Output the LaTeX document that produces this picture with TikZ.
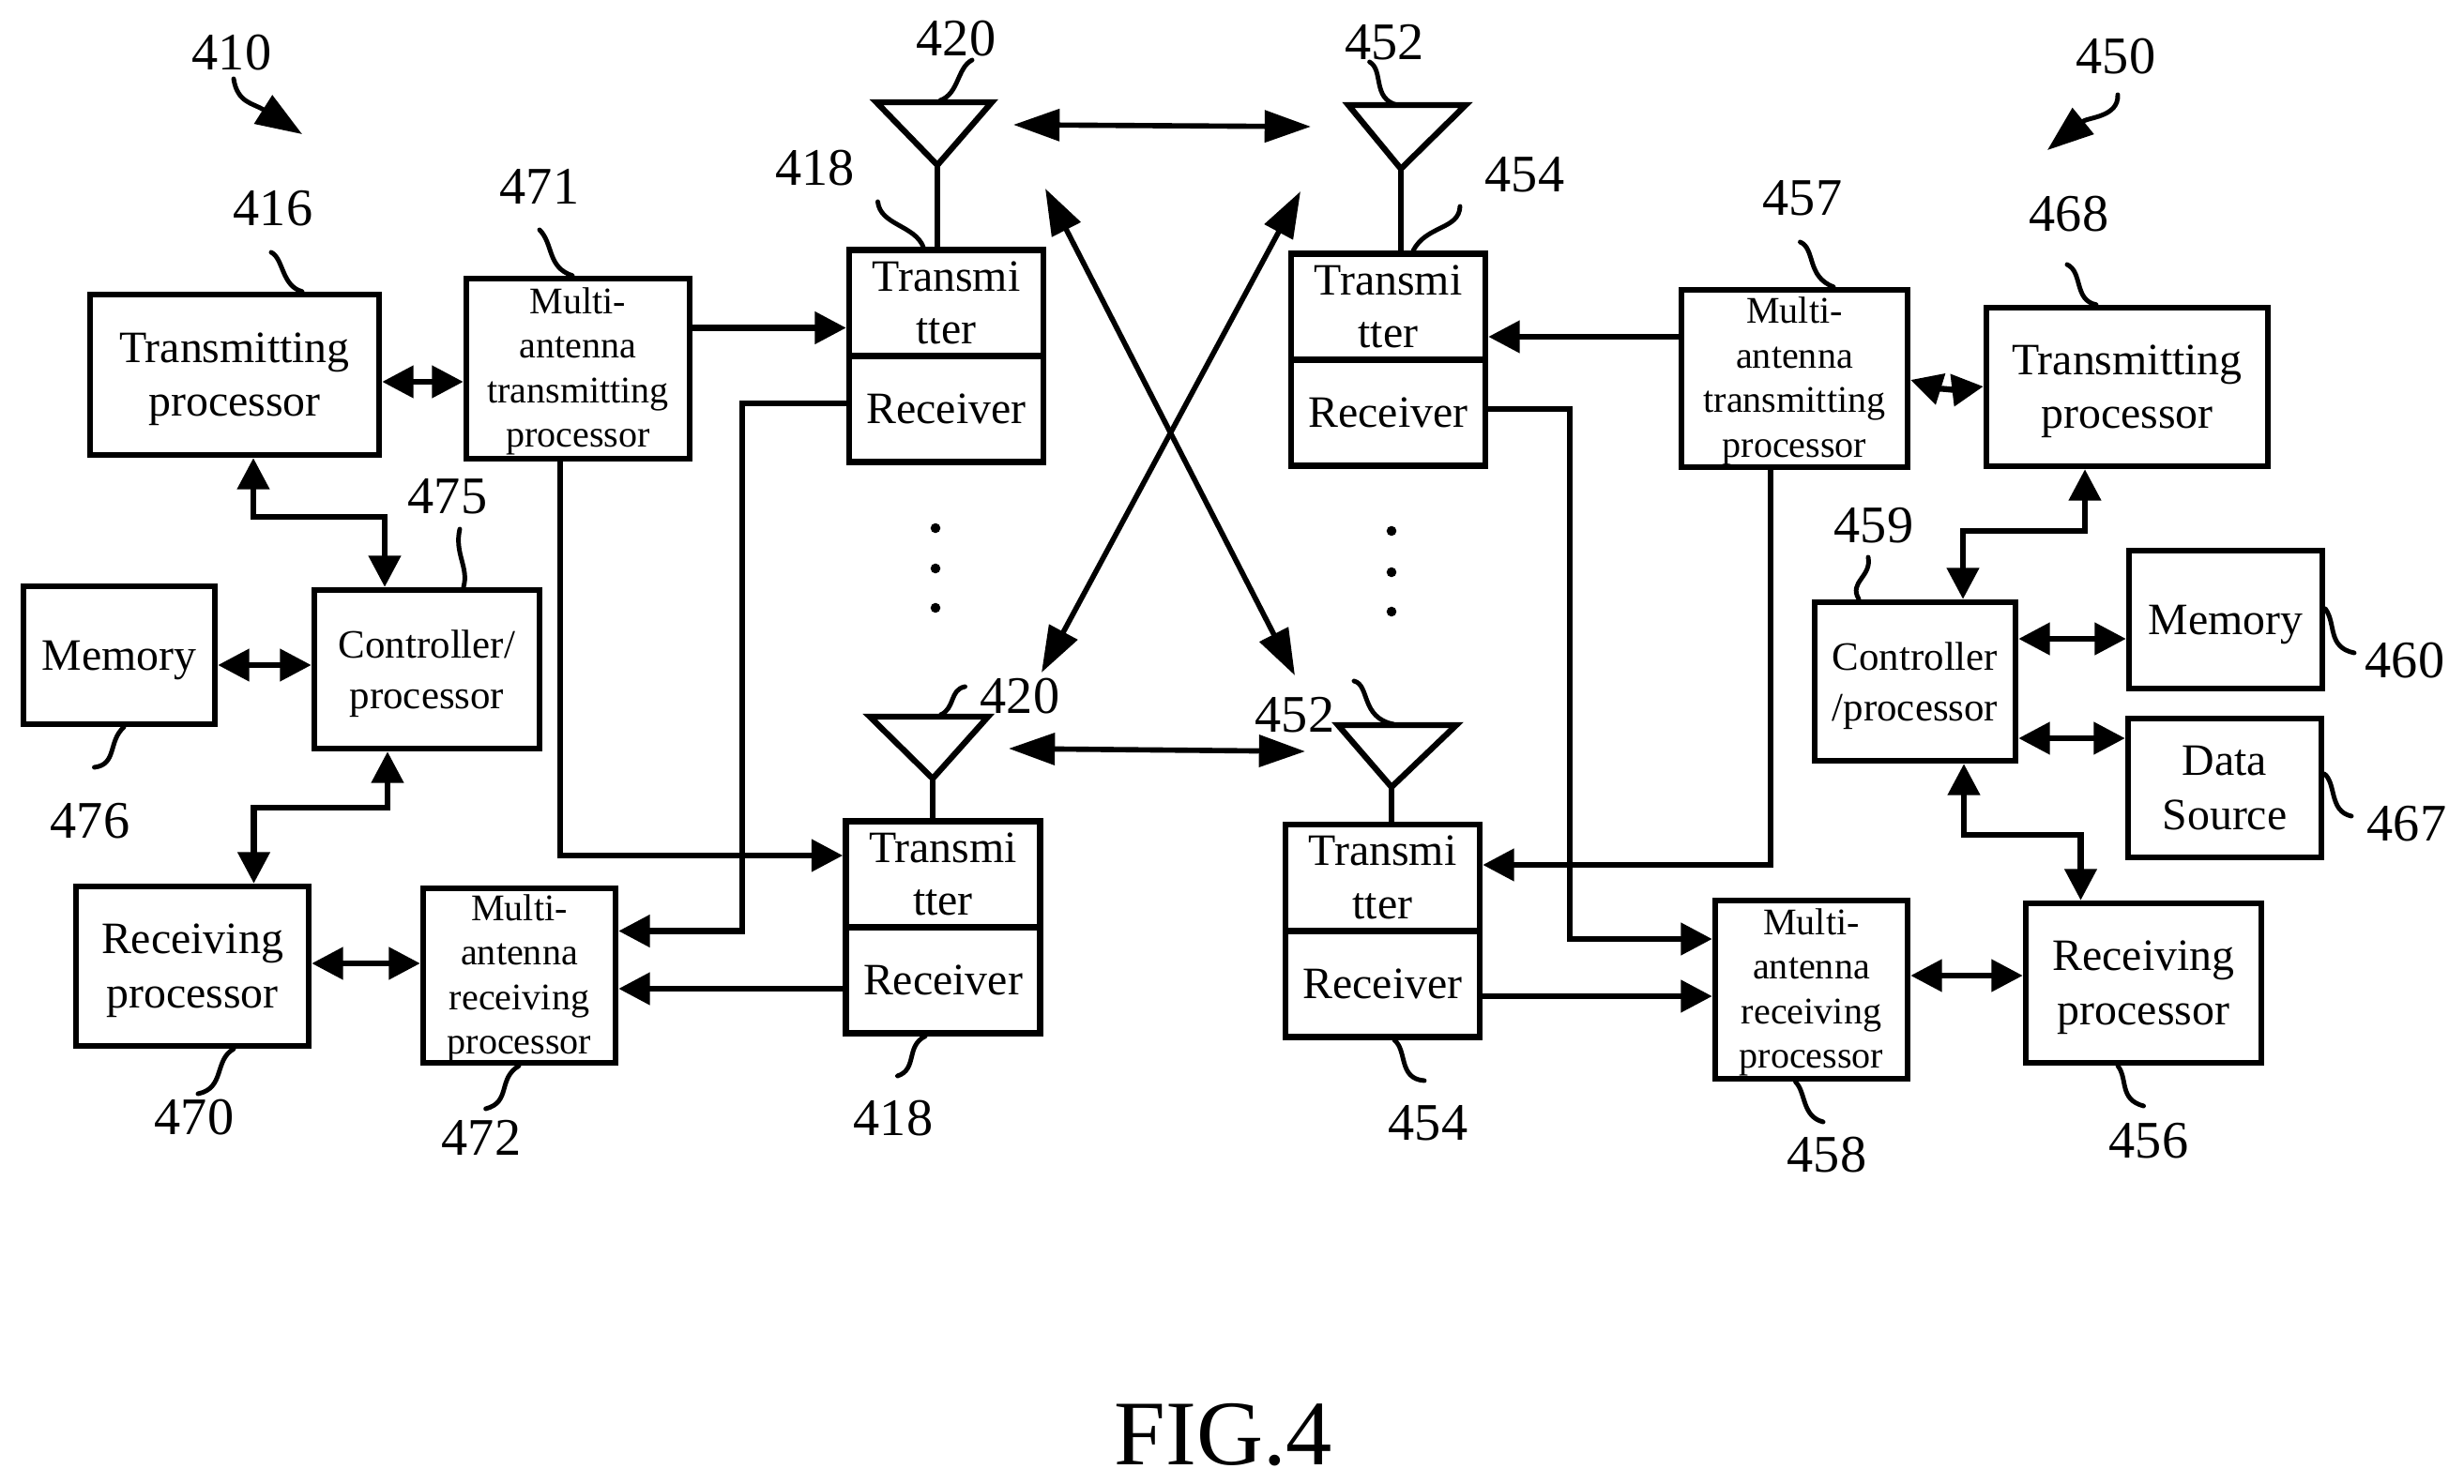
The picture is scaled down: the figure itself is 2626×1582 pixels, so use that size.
\documentclass[tikz,border=0pt]{standalone}
\usepackage{fontspec}
\setmainfont{Liberation Serif}
\usetikzlibrary{arrows.meta}

\begin{document}
\begin{tikzpicture}[x=0.01cm, y=-0.01cm,
    plain/.style={draw, line width=1.8pt, inner sep=0pt, align=center, font=\fontsize{13.6}{16.4}\selectfont},
    boxpad/.style={execute at begin node={\rule{0pt}{#1}}},
    box/.style={plain, boxpad=28.2pt},
    membox/.style={plain, boxpad=12.2pt},
    smallbox/.style={plain, font=\fontsize{11.4}{13.5}\selectfont, boxpad=50.1pt},
    ctrlbox/.style={plain, font=\fontsize{12.2}{15.3}\selectfont, boxpad=26.4pt},
    cell/.style={plain, font=\fontsize{13.6}{16}\selectfont, minimum width=2.07cm, minimum height=1.13cm},
    num/.style={inner sep=0pt, font=\fontsize{16}{18}\selectfont},
    link/.style={line width=1.8pt, -{Triangle[length=9.5pt,width=9.5pt]}},
    bilink/.style={line width=1.8pt, {Triangle[length=9.5pt,width=9.5pt]}-{Triangle[length=9.5pt,width=9.5pt]}},
    air/.style={line width=1.6pt, {Triangle[length=14pt,width=9.5pt]}-{Triangle[length=14pt,width=9.5pt]}},
    leader/.style={line width=1.4pt, line cap=round},
    dotmark/.style={circle, fill, inner sep=0pt, minimum size=3pt}]
    \useasboundingbox (0,0) rectangle (2626,1582);

    % Boxes on the left
    \node[box, minimum width=3.08cm, minimum height=1.71cm] (tp1) at (250,399.5) {Transmitting\\processor};
    \node[smallbox, minimum width=2.38cm, minimum height=1.92cm] (mt1) at (616,393) {Multi-\\antenna\\transmitting\\processor};
    \node[membox, minimum width=2.04cm, minimum height=1.47cm] (mem1) at (127,698.5) {Memory};
    \node[ctrlbox, minimum width=2.4cm, minimum height=1.69cm] (ct1) at (455,713.5) {Controller/\\processor};
    \node[box, minimum width=2.48cm, minimum height=1.7cm] (rp1) at (205,1030) {Receiving\\processor};
    \node[smallbox, minimum width=2.05cm, minimum height=1.86cm] (mr1) at (553.5,1040) {Multi-\\antenna\\receiving\\processor};

    % Transmitter and receiver pairs
    \node[cell] (tx1) at (1008.5,323) {Transmi\\tter};
    \node[cell] (rx1) at (1008.5,436) {Receiver};
    \node[cell] (tx2) at (1005,932) {Transmi\\tter};
    \node[cell] (rx2) at (1005,1045) {Receiver};
    \node[cell] (tx3) at (1479.5,327) {Transmi\\tter};
    \node[cell] (rx3) at (1479.5,440) {Receiver};
    \node[cell] (tx4) at (1473.5,935.5) {Transmi\\tter};
    \node[cell] (rx4) at (1473.5,1049) {Receiver};

    % Boxes on the right
    \node[smallbox, minimum width=2.41cm, minimum height=1.89cm] (mt2) at (1912.5,403.5) {Multi-\\antenna\\transmitting\\processor};
    \node[box, minimum width=3cm, minimum height=1.69cm] (tp2) at (2267,412.5) {Transmitting\\processor};
    \node[ctrlbox, minimum width=2.14cm, minimum height=1.69cm] (ct2) at (2041,726.5) {Controller\\/processor};
    \node[membox, minimum width=2.06cm, minimum height=1.47cm] (mem2) at (2372,660.5) {Memory};
    \node[plain, minimum width=2.06cm, minimum height=1.48cm] (ds) at (2371,840) {Data\\Source};
    \node[smallbox, minimum width=2.05cm, minimum height=1.9cm] (mr2) at (1930.5,1055) {Multi-\\antenna\\receiving\\processor};
    \node[box, minimum width=2.51cm, minimum height=1.7cm] (rp2) at (2284.5,1048) {Receiving\\processor};

    % Antennas
    \coordinate (ant1) at (999,176);
    \coordinate (ant2) at (994,830);
    \coordinate (ant3) at (1493,180);
    \coordinate (ant4) at (1483,839);
    \draw[line width=1.8pt, line join=miter] (934,109) -- (1057,109) -- (ant1) -- cycle;
    \draw[line width=1.8pt, line join=miter] (927,764) -- (1053,764) -- (ant2) -- cycle;
    \draw[line width=1.8pt, line join=miter] (1437,112) -- (1562,112) -- (ant3) -- cycle;
    \draw[line width=1.8pt, line join=miter] (1426,773) -- (1552,773) -- (ant4) -- cycle;
    \draw[line width=1.8pt] (ant1) -- (ant1 |- tx1.north);
    \draw[line width=1.8pt] (ant2) -- (ant2 |- tx2.north);
    \draw[line width=1.8pt] (ant3) -- (ant3 |- tx3.north);
    \draw[line width=1.8pt] (ant4) -- (ant4 |- tx4.north);

    % Dots
    \node[dotmark] (d1) at (997,563) {};
    \node[dotmark] (d2) at (997,606) {};
    \node[dotmark] (d3) at (997,648) {};
    \node[dotmark] (d4) at (1483,566) {};
    \node[dotmark] (d5) at (1483,610) {};
    \node[dotmark] (d6) at (1483,652) {};

    % Arrows on the left
    \draw[bilink] (tp1.east |- 0,407) -- (mt1.west |- 0,407);
    \draw[link] (mt1.east |- 0,349.5) -- (tx1.west |- 0,349.5);
    \draw[bilink] (270,0 |- tp1.south) -- (270,551) -- (410,551) -- (410,0 |- ct1.north);
    \draw[bilink] (mem1.east |- 0,709) -- (ct1.west |- 0,709);
    \draw[bilink] (270.5,0 |- rp1.north) -- (270.5,861) -- (413,861) -- (413,0 |- ct1.south);
    \draw[bilink] (rp1.east |- 0,1027) -- (mr1.west |- 0,1027);
    \draw[link] (597,0 |- mt1.south) -- (597,912) -- (tx2.west |- 0,912);
    \draw[link] (rx1.west |- 0,430) -- (791,430) -- (791,992.5) -- (mr1.east |- 0,992.5);
    \draw[link] (rx2.west |- 0,1054) -- (mr1.east |- 0,1054);

    % Arrows on the right
    \draw[link] (mt2.west |- 0,359) -- (tx3.east |- 0,359);
    \draw[link] (1887,0 |- mt2.south) -- (1887,922) -- (tx4.east |- 0,922);
    \draw[link] (rx3.east |- 0,436) -- (1673,436) -- (1673,1001) -- (mr2.west |- 0,1001);
    \draw[link] (rx4.east |- 0,1062) -- (mr2.west |- 0,1062);
    \draw[bilink] (mt2.east |- 0,405) to[bend right=12] (tp2.west |- 0,412);
    \draw[bilink] (2222,0 |- tp2.south) -- (2222,566) -- (2092,566) -- (2092,0 |- ct2.north);
    \draw[bilink] (ct2.east |- 0,681) -- (mem2.west |- 0,681);
    \draw[bilink] (ct2.east |- 0,787) -- (ds.west |- 0,787);
    \draw[bilink] (2093,0 |- ct2.south) -- (2093,890) -- (2217.5,890) -- (2217.5,0 |- rp2.north);
    \draw[bilink] (mr2.east |- 0,1040) -- (rp2.west |- 0,1040);

    % Arrows between the antennas
    \coordinate (w1) at (1080,133);
    \coordinate (w2) at (1397,135);
    \coordinate (w3) at (1075,798);
    \coordinate (w4) at (1391,801);
    \coordinate (w5) at (1114,201);
    \coordinate (w6) at (1380,720);
    \coordinate (w7) at (1386,204);
    \coordinate (w8) at (1110,717);
    \draw[air] (w1) -- (w2);
    \draw[air] (w3) -- (w4);
    \draw[air] (w5) -- (w6);
    \draw[air] (w7) -- (w8);

    % Labels
    \node[num] (l410) at (247,56) {410};
    \node[num] (l420a) at (1019,41) {420};
    \node[num] (l418a) at (868.5,179) {418};
    \node[num] (l416) at (291,222) {416};
    \node[num] (l471) at (575,199) {471};
    \node[num] (l475) at (477,529) {475};
    \node[num] (l420b) at (1087,742) {420};
    \node[num] (l476) at (96,875) {476};
    \node[num] (l470) at (207,1191) {470};
    \node[num] (l472) at (513,1213) {472};
    \node[num] (l418b) at (952,1192) {418};
    \node[num] (l452a) at (1475.5,45) {452};
    \node[num] (l454a) at (1625,186) {454};
    \node[num] (l457) at (1921,211) {457};
    \node[num] (l468) at (2205,228) {468};
    \node[num] (l450) at (2255,60) {450};
    \node[num] (l459) at (1997,560) {459};
    \node[num] (l460) at (2563,704) {460};
    \node[num] (l452b) at (1380,762) {452};
    \node[num] (l467) at (2565,878) {467};
    \node[num] (l454b) at (1522,1197) {454};
    \node[num] (l458) at (1947,1231) {458};
    \node[num] (l456) at (2290,1216) {456};
    \node[font=\fontsize{28}{30}\selectfont, inner sep=0pt] (fig) at (1304,1530) {FIG.4};

    % Leaders
    \draw[leader, -{Triangle[length=14pt,width=10pt]}] (249,84) .. controls (253,110) and (270,110) .. (322,143);
    \draw[leader, -{Triangle[length=14pt,width=10pt]}] (2257,101) .. controls (2258,125) and (2225,125) .. (2182,160);
    \draw[leader] (289,269) .. controls (302,275) and (300,305) .. (322,0 |- tp1.north);
    \draw[leader] (575,245) .. controls (590,260) and (583,285) .. (610,0 |- mt1.north);
    \draw[leader] (1036,64) .. controls (1020,72) and (1022,100) .. (1002,107);
    \draw[leader] (935.5,215) .. controls (938,240) and (975,240) .. (984,0 |- tx1.north);
    \draw[leader] (490,564) .. controls (484,590) and (500,605) .. (494,0 |- ct1.north);
    \draw[leader] (132,0 |- mem1.south) .. controls (115,790) and (125,815) .. (100.5,818);
    \draw[leader] (1028.5,732) .. controls (1012,735) and (1018,755) .. (1002.5,762);
    \draw[leader] (249,0 |- rp1.south) .. controls (228,1130) and (240,1160) .. (211,1166);
    \draw[leader] (553,0 |- mr1.south) .. controls (530,1150) and (545,1175) .. (517.6,1182);
    \draw[leader] (986,0 |- rx2.south) .. controls (965,1115) and (978,1140) .. (956.5,1147);
    \draw[leader] (1459.6,66) .. controls (1475,75) and (1462,105) .. (1489,112);
    \draw[leader] (1556,220) .. controls (1555,245) and (1520,240) .. (1506,0 |- tx3.north);
    \draw[leader] (1918.5,258) .. controls (1935,265) and (1925,295) .. (1954,0 |- mt2.north);
    \draw[leader] (2203,282) .. controls (2220,290) and (2210,320) .. (2234,0 |- tp2.north);
    \draw[leader] (1991,594) .. controls (1995,615) and (1970,620) .. (1981,0 |- ct2.north);
    \draw[leader] (mem2.east |- 0,649) .. controls (2490,665) and (2480,690) .. (2509,696);
    \draw[leader] (ds.east |- 0,825) .. controls (2490,835) and (2482,865) .. (2506,870);
    \draw[leader] (1443,726) .. controls (1460,730) and (1450,765) .. (1485,772);
    \draw[leader] (1486,0 |- rx4.south) .. controls (1500,1120) and (1490,1150) .. (1518,1152);
    \draw[leader] (1913.5,0 |- mr2.south) .. controls (1925,1165) and (1920,1190) .. (1943,1196);
    \draw[leader] (2257,0 |- rp2.south) .. controls (2268,1150) and (2258,1172) .. (2284.5,1179);
\end{tikzpicture}
\end{document}
